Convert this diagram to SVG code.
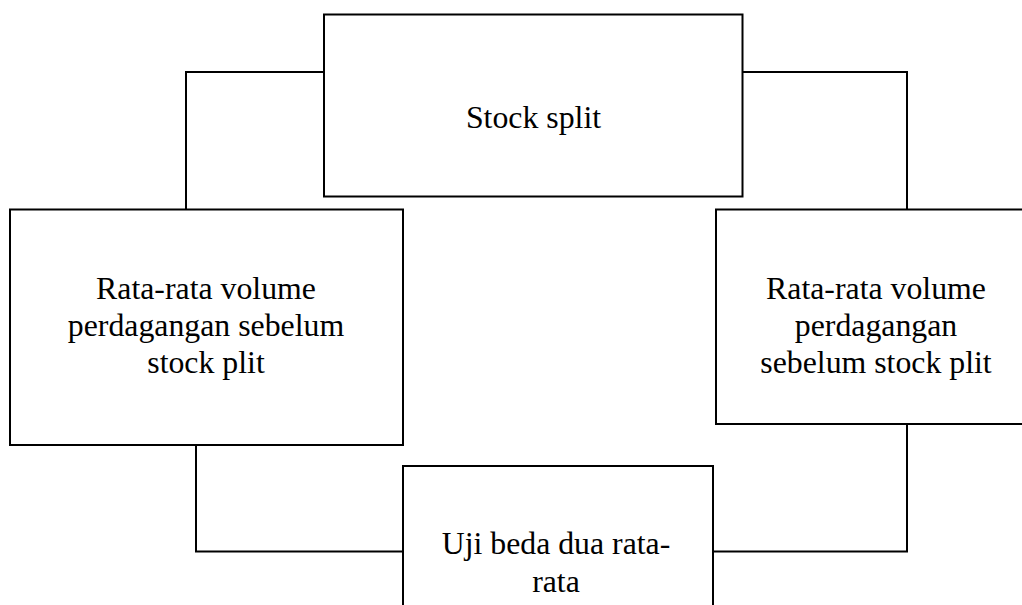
<svg xmlns="http://www.w3.org/2000/svg" width="1022" height="605" viewBox="0 0 1022 605">
<style>
.box{fill:#fff;stroke:#000;stroke-width:2}
.con{fill:none;stroke:#000;stroke-width:2}
.t{font-family:"Liberation Serif","Times New Roman",serif;font-size:31.8px;fill:#000;text-anchor:middle}
</style>
<rect width="1022" height="605" fill="#fff"/>
<g id="connectors">
<polyline class="con" points="324,72 186,72 186,209.5"/>
<polyline class="con" points="196,445 196,551.5 403,551.5"/>
<polyline class="con" points="742.5,72 907,72 907,209.5"/>
<polyline class="con" points="907,424 907,551.5 713,551.5"/>
</g>
<g id="stock-split">
<rect class="box" x="324" y="14.5" width="418.5" height="182"/>
<text class="t" x="533.5" y="128.3">Stock split</text>
</g>
<g id="left-box">
<rect class="box" x="10" y="209.5" width="393" height="235.5"/>
<text class="t" x="206" y="299.3">Rata-rata volume</text>
<text class="t" x="206" y="336.3">perdagangan sebelum</text>
<text class="t" x="206" y="373.3">stock plit</text>
</g>
<g id="right-box">
<rect class="box" x="716" y="209.5" width="330" height="214.5"/>
<text class="t" x="876" y="299.3">Rata-rata volume</text>
<text class="t" x="876" y="336.3">perdagangan</text>
<text class="t" x="876" y="373.3">sebelum stock plit</text>
</g>
<g id="uji-beda">
<rect class="box" x="403" y="466" width="310" height="160"/>
<text class="t" x="556" y="554.3">Uji beda dua rata-</text>
<text class="t" x="556" y="591.8">rata</text>
</g>
</svg>
